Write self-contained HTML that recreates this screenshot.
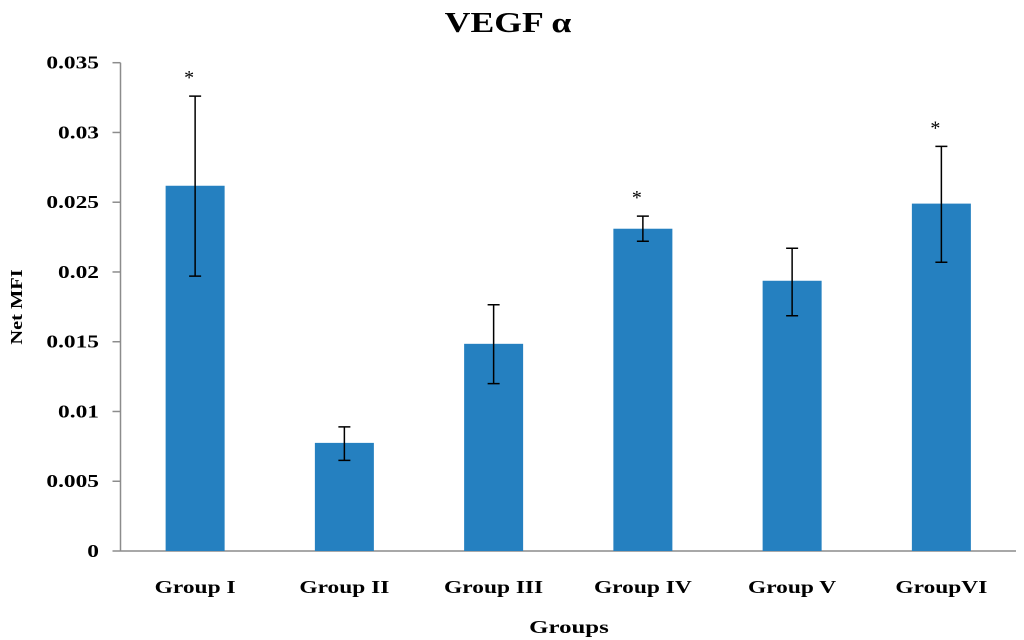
<!DOCTYPE html>
<html><head><meta charset="utf-8"><style>
html,body{margin:0;padding:0;background:#fff;}
svg{display:block;font-family:"Liberation Serif",serif;font-weight:bold;}
</style></head><body>
<svg id="chart" width="1024" height="640" viewBox="0 0 1024 640">
<text id="title" x="508" y="32" text-anchor="middle" font-size="29">VEGF α</text>
<text id="ytitle" transform="translate(22,307) rotate(-90)" text-anchor="middle" font-size="17">Net MFI</text>
<text id="xtitle" x="569" y="633" text-anchor="middle" font-size="18">Groups</text>
<g id="ticks"></g><g id="bars"></g>
</svg>
<script>
const categories=["Group I","Group II","Group III","Group IV","Group V","GroupVI"];
const values=[0.02618,0.00775,0.01485,0.0231,0.01937,0.0249];
const errUpper=[0.0326,0.0089,0.01765,0.0240,0.0217,0.0290];
const errLower=[0.0197,0.0065,0.0120,0.0222,0.01686,0.0207];
const significant=[true,false,false,true,false,true];
const yTicks=[0,0.005,0.01,0.015,0.02,0.025,0.03,0.035];
const yTickLabels=["0","0.005","0.01","0.015","0.02","0.025","0.03","0.035"];
const NS="http://www.w3.org/2000/svg";
const x0=120.5,x1=1016,y0=551,yTop=62.7,yMax=0.035;
const y=v=>y0-(v/yMax)*(y0-yTop);
const bw=(x1-x0)/categories.length;
const xc=i=>x0+bw*(i+0.5);
function mk(t,a,p){const e=document.createElementNS(NS,t);for(const k in a)e.setAttribute(k,a[k]);p.appendChild(e);return e;}
function stretch(el,f){const w=el.getComputedTextLength();el.setAttribute('textLength',(w*f).toFixed(1));el.setAttribute('lengthAdjust','spacingAndGlyphs');}
const tg=document.getElementById('ticks'),bg=document.getElementById('bars');
const ya=mk('line',{x1:x0,y1:yTop,x2:x0,y2:y0,stroke:'#8c8c8c','stroke-width':1.5},tg);


yTicks.forEach((v,i)=>{
 const l=mk('line',{x1:x0-8,y1:y(v),x2:x0,y2:y(v),stroke:'#8c8c8c','stroke-width':1.5},tg);
 
 
 const t=mk('text',{x:99,y:y(v)+6,'text-anchor':'end','font-size':18},tg);
 t.textContent=yTickLabels[i];
 
 
 stretch(t,1.3);
});
categories.forEach((c,i)=>{
 const cx=xc(i),w=59;
 const r=mk('rect',{x:cx-w/2,y:y(values[i]),width:w,height:y0-y(values[i]),fill:'#2580c0'},bg);
 
 
 const e=mk('path',{d:`M${cx},${y(errUpper[i])}V${y(errLower[i])}M${cx-6},${y(errUpper[i])}H${cx+6}M${cx-6},${y(errLower[i])}H${cx+6}`,stroke:'#000','stroke-width':1.5,fill:'none'},bg);
 
 
 const t=mk('text',{x:cx,y:593,'text-anchor':'middle','font-size':18},bg);
 t.textContent=c;
 
 
 stretch(t,1.3);
 if(significant[i]){
  const s=mk('text',{x:cx-6,y:y(errUpper[i])-12,'text-anchor':'middle','font-size':20,'font-weight':'normal'},bg);
  s.textContent='*';
  
  
 }
});
const xa=mk('line',{x1:x0,y1:y0,x2:x1,y2:y0,stroke:'#8c8c8c','stroke-width':1.5},tg);


stretch(document.getElementById('title'),1.23);
stretch(document.getElementById('xtitle'),1.38);
stretch(document.getElementById('ytitle'),1.2);
</script>
</body></html>
